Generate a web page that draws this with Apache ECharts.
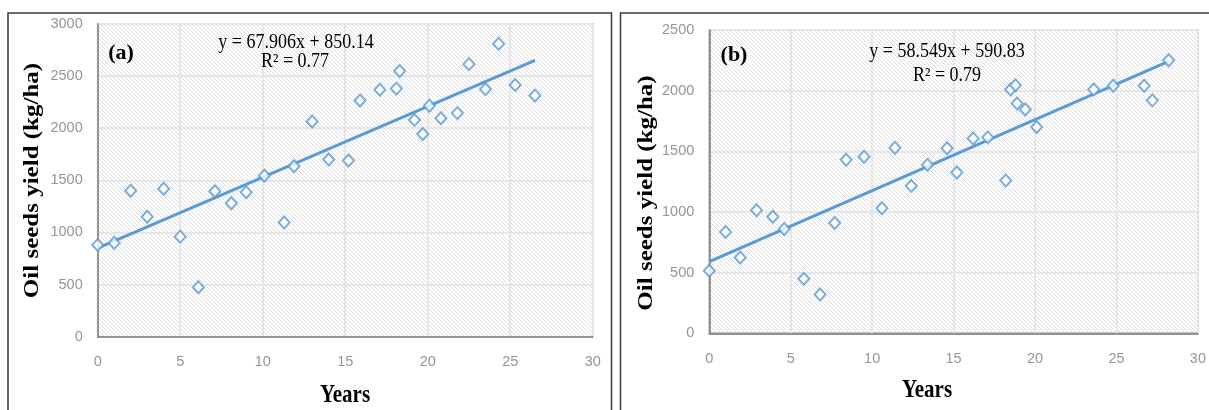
<!DOCTYPE html>
<html>
<head>
<meta charset="utf-8">
<script src="https://cdn.jsdelivr.net/npm/echarts@6/dist/echarts.min.js"></script>
<style>
html,body{margin:0;padding:0;background:#fff;}
#chart{width:1209px;height:410px;}
</style>
</head>
<body>
<div id="chart"></div>
<script>
// ---- Data ----
const yearsA = [0, 1, 2, 3, 4, 5, 6.1, 7.1, 8.1, 9, 10.1, 11.3, 11.9, 13, 14, 15.2, 15.9, 17.1, 18.1, 18.3, 19.2, 19.7, 20.1, 20.8, 21.8, 22.5, 23.5, 24.3, 25.3, 26.5];
const yieldA = [880, 900, 1400, 1150, 1420, 960, 475, 1395, 1280, 1385, 1545, 1095, 1635, 2065, 1700, 1690, 2265, 2370, 2380, 2550, 2080, 1945, 2215, 2095, 2145, 2615, 2375, 2810, 2415, 2315];
const trendA = [[0, 850], [26.5, 2650]];
const equationA = 'y = 67.906x + 850.14';
const r2A = 'R² = 0.77';

const yearsB = [0, 1, 1.9, 2.9, 3.9, 4.6, 5.8, 6.8, 7.7, 8.4, 9.5, 10.6, 11.4, 12.4, 13.4, 14.6, 15.2, 16.2, 17.1, 18.2, 18.5, 18.8, 18.9, 19.4, 20.1, 23.6, 24.8, 26.7, 27.2, 28.2];
const yieldB = [515, 835, 625, 1015, 960, 860, 450, 320, 910, 1430, 1455, 1030, 1530, 1215, 1390, 1525, 1325, 1605, 1615, 1260, 2010, 2045, 1895, 1845, 1700, 2010, 2040, 2040, 1920, 2250];
const trendB = [[0, 591], [28.2, 2242]];
const equationB = 'y = 58.549x + 590.83';
const r2B = 'R² = 0.79';

const panelLabels = ['(a)', '(b)'];
const xTitle = 'Years';
const yTitle = 'Oil seeds yield (kg/ha)';

// ---- hatch pattern ----
function makeHatch() {
  const c = document.createElement('canvas');
  c.width = 4; c.height = 4;
  const ctx = c.getContext('2d');
  ctx.fillStyle = '#ffffff';
  ctx.fillRect(0, 0, 4, 4);
  ctx.strokeStyle = '#dadada';
  ctx.lineWidth = 0.9;
  for (let k = -1; k <= 1; k++) {
    ctx.beginPath();
    ctx.moveTo(k * 4, 0);
    ctx.lineTo(k * 4 + 4, 4);
    ctx.stroke();
  }
  return c;
}
const hatch = { image: makeHatch(), repeat: 'repeat' };

const BLUE = '#5B9BD5';
const tickFont = { color: '#959595', fontSize: 14.5, fontFamily: 'Liberation Sans', formatter: function (v) { return String(v); } };

function pairs(xs, ys) { return xs.map((x, i) => [x, ys[i]]); }

function xAxisCfg(gi) {
  return {
    gridIndex: gi, type: 'value', min: 0, max: 30, interval: 5,
    axisTick: { show: false },
    axisLine: { show: true, lineStyle: { color: '#7a7a7a', width: 1.5 } },
    axisLabel: Object.assign({ margin: 18 }, tickFont),
    splitLine: { show: true, lineStyle: { color: '#e6e6e6', width: 2 } }
  };
}
function yAxisCfg(gi, max) {
  return {
    gridIndex: gi, type: 'value', min: 0, max: max, interval: 500,
    axisTick: { show: false },
    axisLine: { show: true, lineStyle: { color: '#7a7a7a', width: 1.5 } },
    axisLabel: Object.assign({ margin: 15 }, tickFont),
    splitLine: { show: true, lineStyle: { color: '#e6e6e6', width: 2 } }
  };
}

function txt(text, x, y, font, opts) {
  return Object.assign({
    type: 'text', x: x, y: y, silent: true,
    style: { text: text, font: font, fill: '#000', align: 'center', verticalAlign: 'middle' }
  }, opts || {});
}

const chart = echarts.init(document.getElementById('chart'), null, { renderer: 'canvas' });
chart.setOption({
  animation: false,
  backgroundColor: '#ffffff',
  grid: [
    { left: 97.7, top: 24, width: 495, height: 312.7, show: true, backgroundColor: hatch, borderColor: '#8a8a8a', borderWidth: 1.5 },
    { left: 709.3, top: 30, width: 506.4, height: 303.3, show: true, backgroundColor: hatch, borderColor: '#8a8a8a', borderWidth: 1.5 }
  ],
  xAxis: [xAxisCfg(0), xAxisCfg(1)],
  yAxis: [yAxisCfg(0, 3000), yAxisCfg(1, 2500)],
  series: [
    { type: 'line', xAxisIndex: 0, yAxisIndex: 0, data: trendA, showSymbol: false, lineStyle: { color: BLUE, width: 3 }, z: 2 },
    { type: 'scatter', xAxisIndex: 0, yAxisIndex: 0, data: pairs(yearsA, yieldA), symbol: 'emptyDiamond', symbolSize: [11, 12],
      itemStyle: { color: BLUE, borderColor: BLUE, borderWidth: 2.2 }, z: 3 },
    { type: 'line', xAxisIndex: 1, yAxisIndex: 1, data: trendB, showSymbol: false, lineStyle: { color: BLUE, width: 3 }, z: 2 },
    { type: 'scatter', xAxisIndex: 1, yAxisIndex: 1, data: pairs(yearsB, yieldB), symbol: 'emptyDiamond', symbolSize: [11, 12],
      itemStyle: { color: BLUE, borderColor: BLUE, borderWidth: 2.2 }, z: 3 }
  ],
  graphic: [
    { type: 'rect', shape: { x: 8, y: 13, width: 603.5, height: 420 }, style: { fill: 'none', stroke: '#3a3a3a', lineWidth: 1.5 }, silent: true },
    { type: 'rect', shape: { x: 620.5, y: 13, width: 620, height: 420 }, style: { fill: 'none', stroke: '#3a3a3a', lineWidth: 1.5 }, silent: true },
    txt(panelLabels[0], 121, 53, 'bold 22px "Liberation Serif"', { z: 10 }),
    txt(panelLabels[1], 734, 55, 'bold 22px "Liberation Serif"', { z: 10 }),
    txt(equationA, 296, 43, '18px "Liberation Serif"', { scaleY: 1.12, z: 10 }),
    txt(r2A, 295, 62, '18px "Liberation Serif"', { scaleY: 1.12, z: 10 }),
    txt(equationB, 947, 52, '18px "Liberation Serif"', { scaleY: 1.12, z: 10 }),
    txt(r2B, 947, 76, '18px "Liberation Serif"', { scaleY: 1.12, z: 10 }),
    txt(xTitle, 345, 396, 'bold 21px "Liberation Serif"', { scaleY: 1.15 }),
    txt(xTitle, 927, 391, 'bold 21px "Liberation Serif"', { scaleY: 1.15 }),
    txt(yTitle, 33, 180.5, 'bold 21px "Liberation Serif"', { rotation: Math.PI / 2, scaleX: 1.19 }),
    txt(yTitle, 647, 193, 'bold 21px "Liberation Serif"', { rotation: Math.PI / 2, scaleX: 1.19 })
  ]
});
</script>
</body>
</html>
